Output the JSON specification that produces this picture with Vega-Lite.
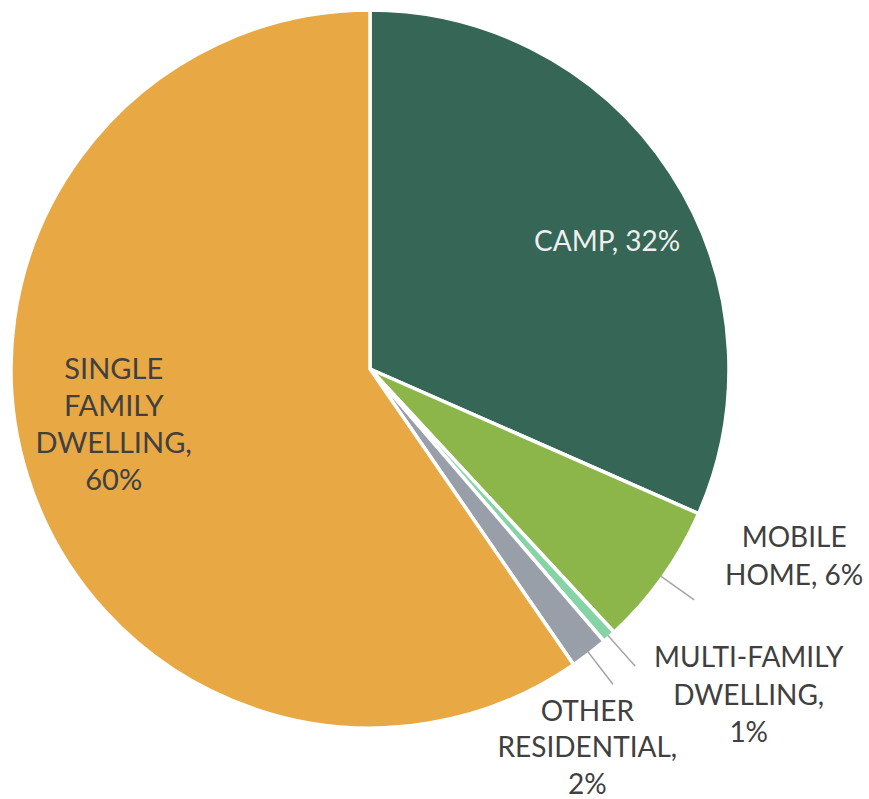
{
  "$schema": "https://vega.github.io/schema/vega-lite/v6.json",
  "autosize": "none",
  "width": 740,
  "height": 738,
  "padding": {"left": 0, "top": 0, "right": 129, "bottom": 61},
  "background": "#ffffff",
  "config": {"view": {"stroke": null}},
  "data": {
    "values": [
      {"name": "CAMP", "value": 31.6, "label": "CAMP, 32%", "i": 1},
      {"name": "MOBILE HOME", "value": 6.5, "label": "MOBILE\nHOME, 6%", "i": 2},
      {"name": "MULTI-FAMILY DWELLING", "value": 0.6, "label": "MULTI-FAMILY\nDWELLING,\n1%", "i": 3},
      {"name": "OTHER RESIDENTIAL", "value": 1.7, "label": "OTHER\nRESIDENTIAL,\n2%", "i": 4},
      {"name": "SINGLE FAMILY DWELLING", "value": 59.6, "label": "SINGLE\nFAMILY\nDWELLING,\n60%", "i": 5}
    ]
  },
  "encoding": {
    "theta": {"field": "value", "type": "quantitative", "stack": true},
    "order": {"field": "i", "type": "quantitative"},
    "detail": {"field": "name", "type": "nominal"}
  },
  "layer": [
    {
      "mark": {"type": "arc", "radius": 359, "stroke": "#ffffff", "strokeWidth": 3.5},
      "encoding": {
        "color": {
          "field": "name",
          "type": "nominal",
          "legend": null,
          "scale": {
            "domain": ["CAMP", "MOBILE HOME", "MULTI-FAMILY DWELLING", "OTHER RESIDENTIAL", "SINGLE FAMILY DWELLING"],
            "range": ["#356656", "#8CB64A", "#86D3A6", "#989FA8", "#E8A844"]
          }
        }
      }
    },
    {
      "mark": {"type": "arc", "radius": 398, "radius2": 357, "padAngle": 0.402, "fill": null, "strokeWidth": 1.5},
      "encoding": {
        "stroke": {
          "condition": {"test": "datum.name === 'CAMP' || datum.name === 'SINGLE FAMILY DWELLING'", "value": null},
          "value": "#A6A6A6"
        }
      }
    },
    {
      "mark": {"type": "text", "radius": 270, "dx": 11, "dy": 22, "font": "Lato", "fontSize": 28, "color": "#EFEFEF", "align": "center", "baseline": "middle", "lineBreak": "\n", "lineHeight": 37},
      "encoding": {"text": {"condition": {"test": "datum.name === 'CAMP'", "field": "label"}, "value": ""}}
    },
    {
      "mark": {"type": "text", "radius": 260, "dx": -8, "dy": -76, "font": "Lato", "fontSize": 29, "color": "#404040", "align": "center", "baseline": "middle", "lineBreak": "\n", "lineHeight": 37},
      "encoding": {"text": {"condition": {"test": "datum.name === 'SINGLE FAMILY DWELLING'", "field": "label"}, "value": ""}}
    },
    {
      "mark": {"type": "text", "radius": 420, "dx": 82, "dy": -74, "font": "Lato", "fontSize": 28, "color": "#404040", "align": "center", "baseline": "middle", "lineBreak": "\n", "lineHeight": 38},
      "encoding": {"text": {"condition": {"test": "datum.name === 'MOBILE HOME'", "field": "label"}, "value": ""}}
    },
    {
      "mark": {"type": "text", "radius": 420, "dx": 99, "dy": -23, "font": "Lato", "fontSize": 28, "color": "#404040", "align": "center", "baseline": "middle", "lineBreak": "\n", "lineHeight": 37.5},
      "encoding": {"text": {"condition": {"test": "datum.name === 'MULTI-FAMILY DWELLING'", "field": "label"}, "value": ""}}
    },
    {
      "mark": {"type": "text", "radius": 420, "dx": -39, "dy": 11, "font": "Lato", "fontSize": 28, "color": "#404040", "align": "center", "baseline": "middle", "lineBreak": "\n", "lineHeight": 36.5},
      "encoding": {"text": {"condition": {"test": "datum.name === 'OTHER RESIDENTIAL'", "field": "label"}, "value": ""}}
    }
  ]
}
